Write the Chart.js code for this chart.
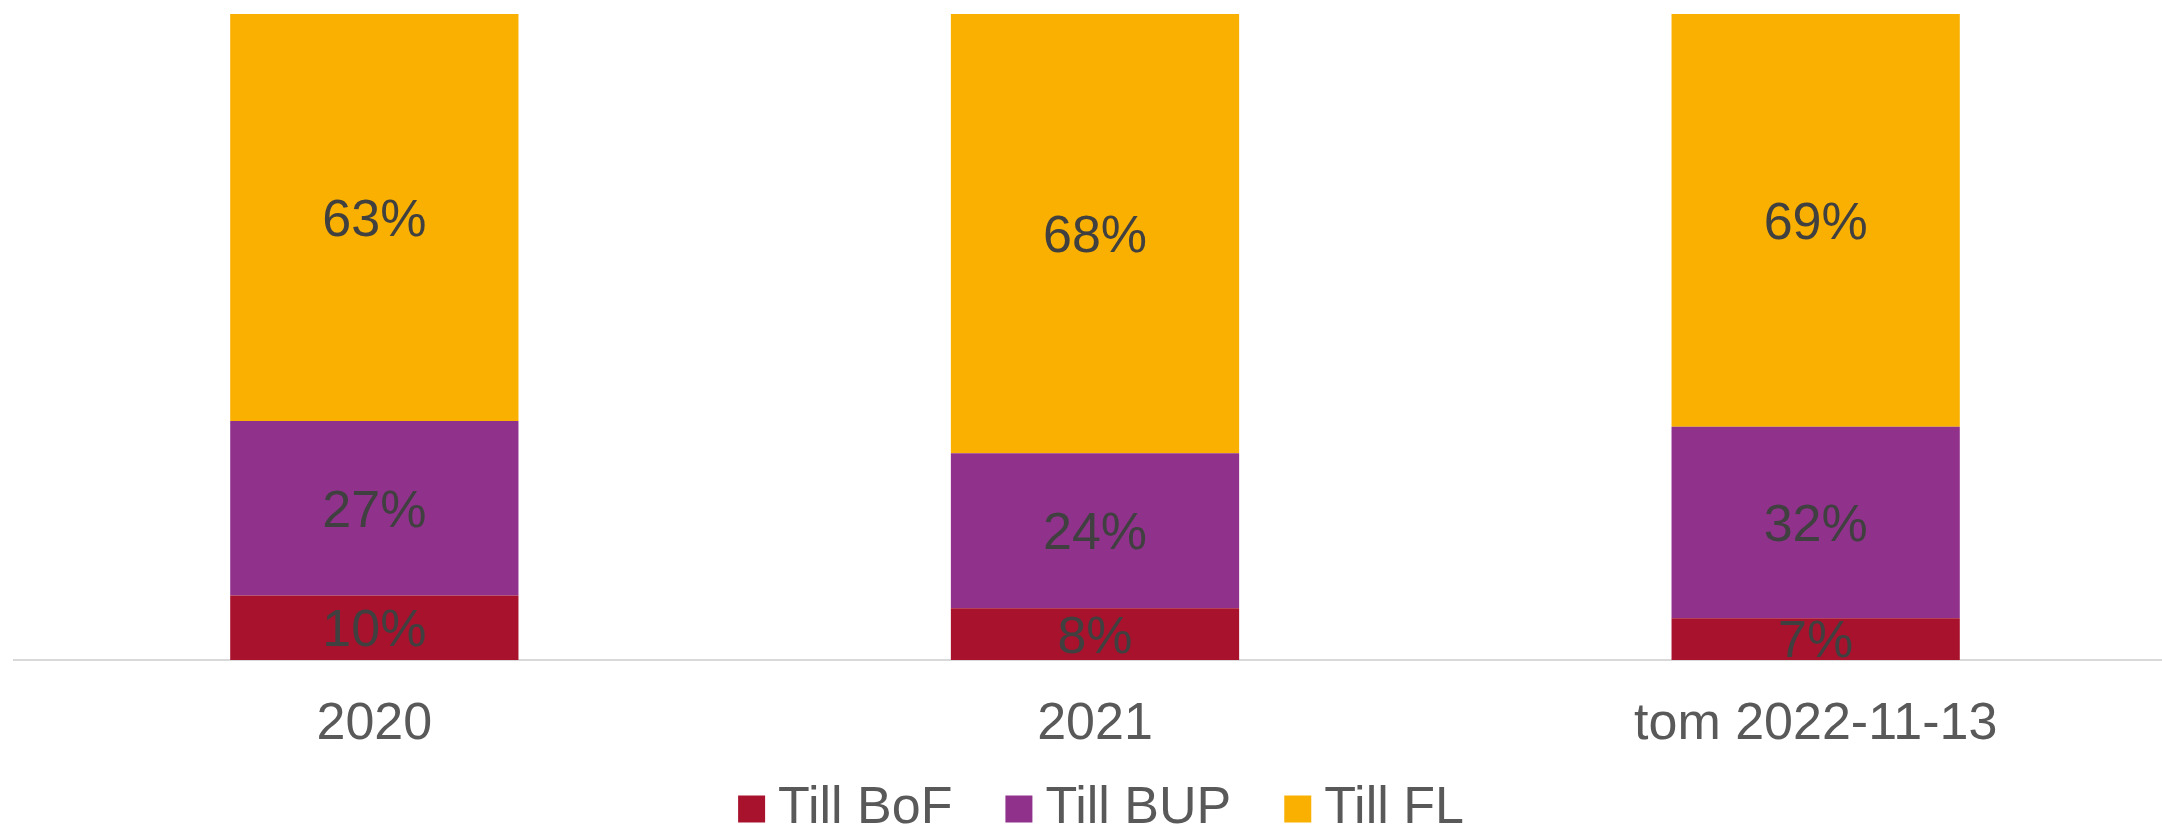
<!DOCTYPE html>
<html>
<head>
<meta charset="utf-8">
<script src="https://cdn.jsdelivr.net/npm/chart.js@4/dist/chart.umd.min.js"></script>
<style>
html, body { margin: 0; padding: 0; background: #ffffff; overflow: hidden; width: 2162px; height: 828px; }
#wrap { position: absolute; left: 0; top: 0; width: 2215px; height: 878px; }
canvas { display: block; }
</style>
</head>
<body>
<div id="wrap"><canvas id="c" width="2215" height="878"></canvas></div>
<script>
const categories = ["2020", "2021", "tom 2022-11-13"];
const seriesNames = ["Till BoF", "Till BUP", "Till FL"];
const bofValues = [10, 8, 7];
const bupValues = [27, 24, 32];
const flValues = [63, 68, 69];
const seriesColors = ["#A8122D", "#90328C", "#F9B000"];

const rawSeries = [bofValues, bupValues, flValues];
const totals = categories.map((_, i) => rawSeries.reduce((s, arr) => s + arr[i], 0));
const shares = rawSeries.map(arr => arr.map((v, i) => v / totals[i] * 100));

const FONT = "'Liberation Sans', Arial, Helvetica, sans-serif";

const labelPlugin = {
  id: 'segmentLabels',
  afterLayout(chart) {
    if (chart.legend) {
      chart.legend.top -= 33;
      chart.legend.bottom -= 33;
    }
  },
  afterDatasetsDraw(chart) {
    const ctx = chart.ctx;
    ctx.save();
    ctx.font = "52px " + FONT;
    ctx.fillStyle = "#404040";
    ctx.textAlign = "center";
    ctx.textBaseline = "middle";
    chart.data.datasets.forEach((ds, di) => {
      const meta = chart.getDatasetMeta(di);
      meta.data.forEach((el, i) => {
        const p = el.getProps(['x', 'y', 'base'], true);
        const cy = (p.y + p.base) / 2;
        ctx.fillText(rawSeries[di][i] + "%", p.x, cy + 4);
      });
    });
    ctx.restore();
  }
};

new Chart(document.getElementById('c'), {
  type: 'bar',
  data: {
    labels: categories,
    datasets: seriesNames.map((name, k) => ({
      label: name,
      data: shares[k],
      backgroundColor: seriesColors[k],
      borderWidth: 0,
      categoryPercentage: 1.0,
      barPercentage: 0.4
    }))
  },
  options: {
    responsive: false,
    animation: false,
    layout: { padding: { left: 0, right: 0, top: 14, bottom: 0 } },
    plugins: {
      tooltip: { enabled: false },
      legend: {
        position: 'bottom',
        labels: {
          usePointStyle: true,
          pointStyle: 'rect',
          boxWidth: 1,
          boxHeight: 27,
          padding: 66,
          color: '#595959',
          font: { family: FONT, size: 52 }
        }
      }
    },
    scales: {
      x: {
        stacked: true,
        grid: { display: false, drawTicks: false },
        border: { display: true, color: '#D9D9D9', width: 2 },
        ticks: { color: '#595959', font: { family: FONT, size: 52 }, padding: 33, maxRotation: 0, autoSkip: false },
        afterFit(scale) { scale.height = 90; }
      },
      y: {
        stacked: true,
        min: 0,
        max: 100,
        position: 'left',
        grid: { display: false, drawTicks: false },
        border: { display: false },
        ticks: { display: false },
        afterFit(scale) { scale.width = 14; }
      },
      y2: {
        type: 'linear',
        position: 'right',
        min: 0,
        max: 100,
        grid: { display: false, drawTicks: false },
        border: { display: false },
        ticks: { display: false },
        afterFit(scale) { scale.width = 39; }
      }
    }
  },
  plugins: [labelPlugin]
});
</script>
</body>
</html>
